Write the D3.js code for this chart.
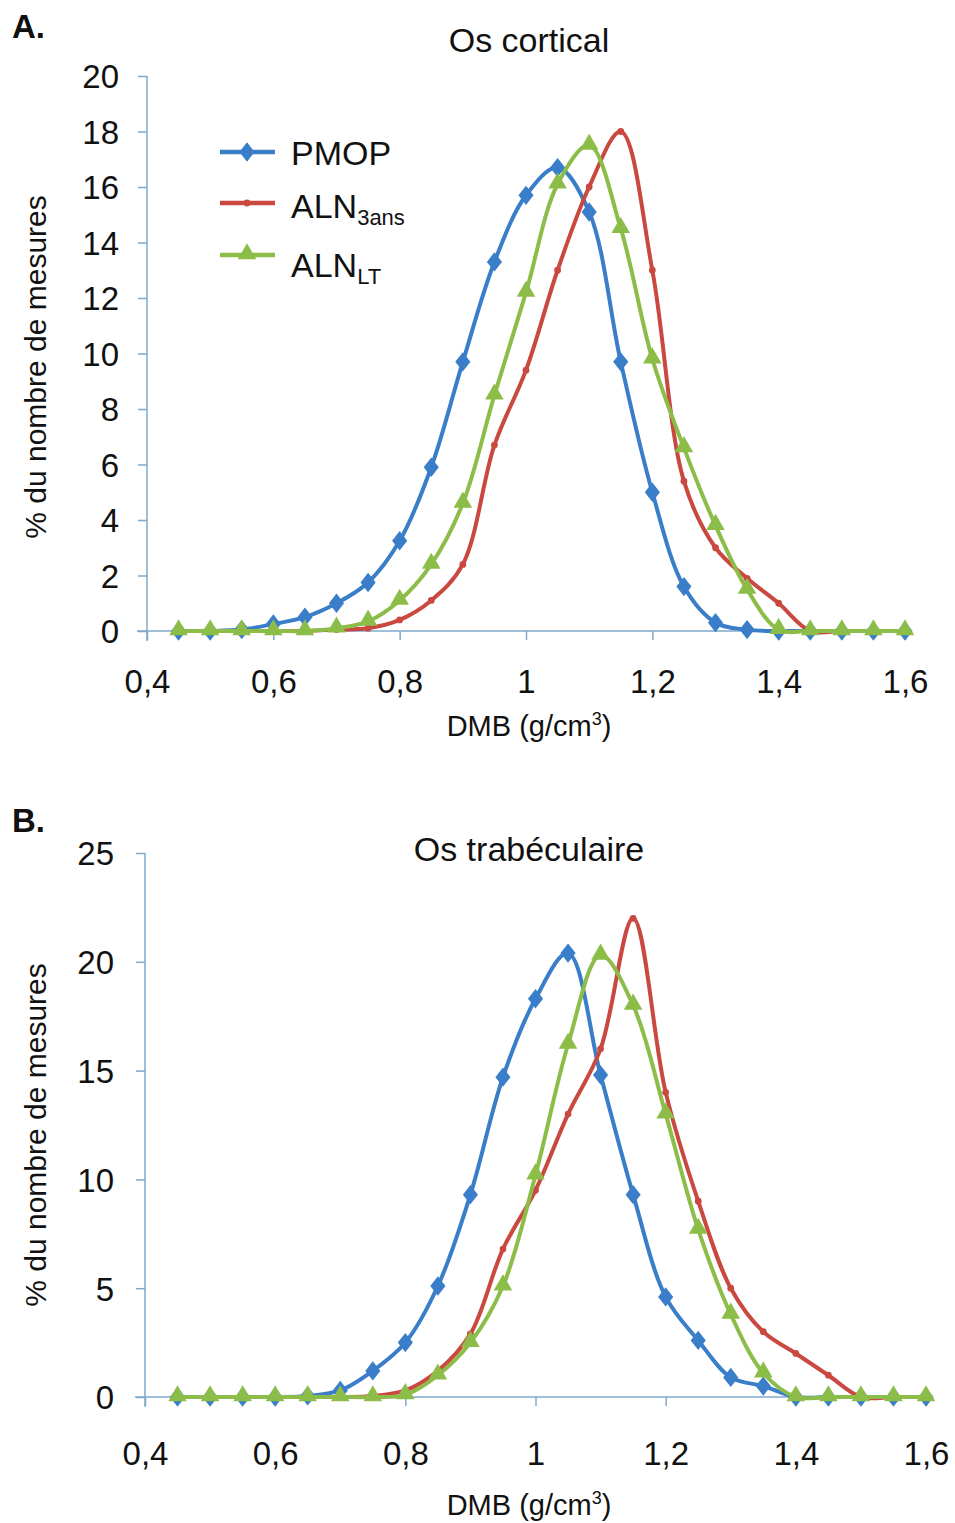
<!DOCTYPE html>
<html>
<head>
<meta charset="utf-8">
<script src="https://cdn.jsdelivr.net/npm/d3@7"></script>
<style>
  html, body { margin: 0; padding: 0; background: #fff; }
  svg { display: block; }
  text { font-family: "Liberation Sans", Arial, sans-serif; fill: #111; }
</style>
</head>
<body>
<svg id="chart" width="955" height="1523"></svg>
<script>
// ---------- data ----------
const dmb = [0.45, 0.5, 0.55, 0.6, 0.65, 0.7, 0.75, 0.8, 0.85, 0.9, 0.95, 1.0,
             1.05, 1.1, 1.15, 1.2, 1.25, 1.3, 1.35, 1.4, 1.45, 1.5, 1.55, 1.6];

const seriesNames = ["PMOP", "ALN3ans", "ALNLT"];

// A. Os cortical
const corticalPMOP    = [0, 0, 0.05, 0.25, 0.5, 1.0, 1.75, 3.25, 5.9, 9.7, 13.3, 15.7,
                         16.7, 15.1, 9.7, 5.0, 1.6, 0.3, 0.05, 0, 0, 0, 0, 0];
const corticalALN3ans = [0, 0, 0, 0, 0, 0.05, 0.1, 0.4, 1.1, 2.4, 6.7, 9.4,
                         13.0, 16.0, 18.0, 13.0, 5.4, 3.0, 1.9, 1.0, 0, 0, 0, 0];
const corticalALNLT   = [0, 0, 0, 0, 0, 0.1, 0.35, 1.1, 2.4, 4.6, 8.5, 12.2,
                         16.1, 17.5, 14.5, 9.8, 6.6, 3.8, 1.5, 0.05, 0, 0, 0, 0];

// B. Os trabéculaire
const trabPMOP    = [0, 0, 0, 0, 0.05, 0.3, 1.2, 2.5, 5.1, 9.3, 14.7, 18.3,
                     20.4, 14.8, 9.3, 4.6, 2.6, 0.9, 0.5, 0, 0, 0, 0, 0];
const trabALN3ans = [0, 0, 0, 0, 0, 0, 0.05, 0.3, 1.2, 2.9, 6.8, 9.5,
                     13.0, 16.0, 22.0, 14.0, 9.0, 5.0, 3.0, 2.0, 1.0, 0, 0, 0];
const trabALNLT   = [0, 0, 0, 0, 0, 0, 0, 0.1, 1.0, 2.5, 5.1, 10.2,
                     16.2, 20.3, 18.0, 13.0, 7.7, 3.8, 1.1, 0, 0, 0, 0, 0];

const xTicks = [0.4, 0.6, 0.8, 1.0, 1.2, 1.4, 1.6];
const yTicksA = [0, 2, 4, 6, 8, 10, 12, 14, 16, 18, 20];
const yTicksB = [0, 5, 10, 15, 20, 25];

// ---------- style ----------
const colors = { PMOP: "#3a7dc9", ALN3ans: "#c94840", ALNLT: "#8dbd49" };
const axisColor = "#7fa8cb";
const fmt = v => String(v).replace(".", ",");

const svg = d3.select("#chart");

function markerPath(kind) {
  return kind === "diamond" ? d3.symbol(d3.symbolDiamond, 150)()
       : kind === "triangle" ? d3.symbol(d3.symbolTriangle, 150)()
       : d3.symbol(d3.symbolCircle, 36)();
}
function markerTransform(kind, cx, cy) {
  return kind === "diamond" ? `translate(${cx},${cy}) scale(1.15,0.85)`
       : kind === "triangle" ? `translate(${cx},${cy - 1})`
       : `translate(${cx},${cy})`;
}

function panel(opt) {
  const g = svg.append("g");
  const x = d3.scaleLinear().domain([0.4, 1.6]).range([opt.x0, opt.x1]);
  const y = d3.scaleLinear().domain([0, opt.ymax]).range([opt.y0, opt.y1]);

  // y axis
  const ya = g.append("g").attr("transform", `translate(${opt.x0},0)`)
    .call(d3.axisLeft(y).tickValues(opt.yTicks).tickSize(9).tickPadding(opt.ypad).tickFormat(fmt));
  ya.select(".domain").attr("stroke", axisColor).attr("stroke-width", 1.5)
    .attr("d", `M0,${opt.y0 + 10}V${opt.y1}`);
  ya.selectAll(".tick line").attr("stroke", axisColor).attr("stroke-width", 1.5);
  ya.selectAll(".tick text").attr("font-size", 33).attr("fill", "#111")
    .attr("font-family", "Liberation Sans, Arial, sans-serif").attr("dy", "0.36em");

  // x axis
  const xa = g.append("g").attr("transform", `translate(0,${opt.y0})`)
    .call(d3.axisBottom(x).tickValues(xTicks).tickSize(9).tickPadding(opt.xpad).tickFormat(fmt));
  xa.select(".domain").attr("stroke", axisColor).attr("stroke-width", 1.5)
    .attr("d", `M${opt.x0 - 10},0H${opt.x1}`);
  xa.selectAll(".tick line").attr("stroke", axisColor).attr("stroke-width", 1.5);
  xa.selectAll(".tick text").attr("font-size", 33).attr("fill", "#111")
    .attr("font-family", "Liberation Sans, Arial, sans-serif");

  // lines
  const line = d3.line().x((d, i) => x(dmb[i])).y(d => y(d)).curve(d3.curveCatmullRom.alpha(0.5));
  const series = [
    { name: "PMOP", values: opt.series[0], marker: "diamond" },
    { name: "ALN3ans", values: opt.series[1], marker: "circle" },
    { name: "ALNLT", values: opt.series[2], marker: "triangle" }
  ];
  series.forEach(s => {
    g.append("path").datum(s.values)
      .attr("fill", "none").attr("stroke", colors[s.name]).attr("stroke-width", 4)
      .attr("stroke-linejoin", "round").attr("d", line);
    g.append("g").selectAll("path").data(s.values).join("path")
      .attr("d", markerPath(s.marker))
      .attr("transform", (d, i) => markerTransform(s.marker, x(dmb[i]), y(d)))
      .attr("fill", colors[s.name]);
  });

  // title
  g.append("text").attr("x", 529).attr("y", opt.titleY).attr("text-anchor", "middle")
    .attr("font-size", 34).text(opt.title);
  // panel letter
  g.append("text").attr("x", 12).attr("y", opt.letterY).attr("font-size", 33)
    .attr("font-weight", "bold").text(opt.letter);
  // y label
  g.append("text").attr("transform", `translate(46,${opt.ylabelY}) rotate(-90)`)
    .attr("text-anchor", "middle").attr("font-size", 30).text("% du nombre de mesures");
  // x label
  const xl = g.append("text").attr("x", 529).attr("y", opt.xlabelY).attr("text-anchor", "middle")
    .attr("font-size", 29);
  xl.append("tspan").text("DMB (g/cm");
  xl.append("tspan").attr("font-size", 18).attr("dy", -11).text("3");
  xl.append("tspan").attr("dy", 11).text(")");
  return { x, y, g };
}

panel({
  x0: 147, x1: 905, y0: 631, y1: 76, ymax: 20, yTicks: yTicksA, ypad: 19, xpad: 30,
  series: [corticalPMOP, corticalALN3ans, corticalALNLT],
  title: "Os cortical", titleY: 52, letter: "A.", letterY: 38,
  ylabelY: 367, xlabelY: 736
});

panel({
  x0: 145, x1: 926, y0: 1397, y1: 853, ymax: 25, yTicks: yTicksB, ypad: 22, xpad: 36,
  series: [trabPMOP, trabALN3ans, trabALNLT],
  title: "Os trabéculaire", titleY: 861, letter: "B.", letterY: 832,
  ylabelY: 1135, xlabelY: 1515
});

// legend (panel A)
const legendY = [152, 203, 255];
const legendBase = [165, 218, 277];
const legendMarkers = ["diamond", "circle", "triangle"];
const leg = svg.append("g");
seriesNames.forEach((name, i) => {
  leg.append("line").attr("x1", 220).attr("x2", 275).attr("y1", legendY[i]).attr("y2", legendY[i])
    .attr("stroke", colors[name]).attr("stroke-width", 4.5);
  leg.append("path").attr("d", markerPath(legendMarkers[i]))
    .attr("transform", markerTransform(legendMarkers[i], 247, legendY[i]))
    .attr("fill", colors[name]);
  const t = leg.append("text").attr("x", 291).attr("y", legendBase[i]).attr("font-size", 34);
  if (i === 0) t.text("PMOP");
  else {
    t.append("tspan").text("ALN");
    t.append("tspan").attr("font-size", 22).attr("dy", 7).text(i === 1 ? "3ans" : "LT");
  }
});
</script>
</body>
</html>
